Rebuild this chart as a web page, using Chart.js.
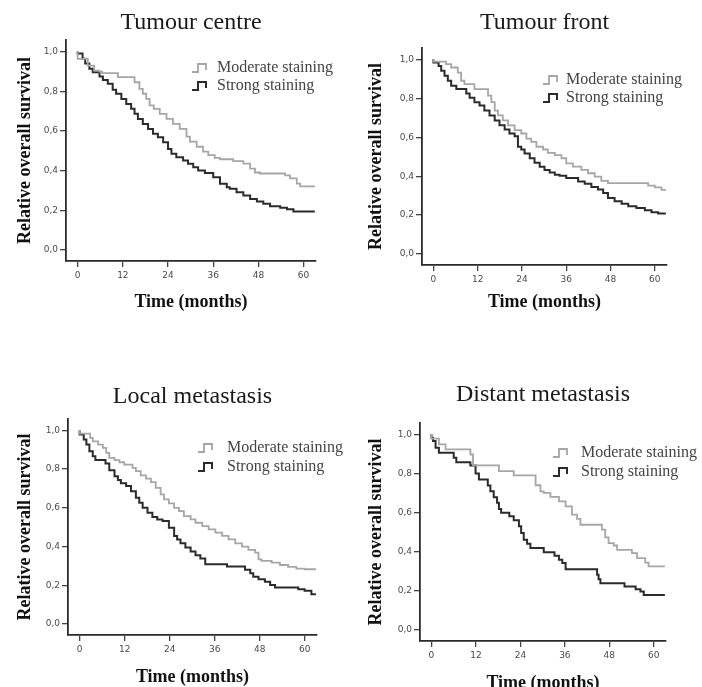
<!DOCTYPE html>
<html>
<head>
<meta charset="utf-8">
<script src="https://cdn.jsdelivr.net/npm/chart.js@4.4.0/dist/chart.umd.min.js"></script>
<style>
  html, body { margin: 0; padding: 0; background: #fff; }
  #wrap { position: relative; width: 702px; height: 687px; overflow: hidden; }
  canvas { position: absolute; }
</style>
</head>
<body>
<div id="wrap">
  <canvas id="centre" width="351" height="340" style="left:0;top:0"></canvas>
  <canvas id="front" width="351" height="340" style="left:351px;top:0"></canvas>
  <canvas id="local" width="351" height="347" style="left:0;top:340px"></canvas>
  <canvas id="distant" width="351" height="347" style="left:351px;top:340px"></canvas>
</div>
<script>
const xTicks = [0, 12, 24, 36, 48, 60];
const yTicks = [0, 0.2, 0.4, 0.6, 0.8, 1.0];
const seriesNames = ['Moderate staining', 'Strong staining'];

// Tumour centre (months, survival)
const centreModT = [0, 2.7, 4.4, 5.8, 6.5, 10.7, 15.1, 16.4, 17.3, 18.2, 19.1, 20.2, 21.8, 23.6, 25.3, 27.1, 28.9, 29.8, 31.6, 33.3, 34.7, 36.4, 37.8, 41.3, 44, 45.8, 47.1, 48.4, 55.1, 56.4, 58.2, 59.1, 60, 63];
const centreModS = [1, 0.963, 0.929, 0.904, 0.899, 0.891, 0.871, 0.845, 0.812, 0.787, 0.761, 0.728, 0.711, 0.686, 0.66, 0.635, 0.61, 0.571, 0.546, 0.52, 0.495, 0.478, 0.464, 0.457, 0.447, 0.435, 0.41, 0.39, 0.385, 0.376, 0.36, 0.334, 0.32, 0.32];
const centreStrT = [0, 1.3, 2.0, 3.1, 4.0, 5.8, 6.7, 8.0, 9.3, 10.2, 11.6, 12.9, 14.2, 15.1, 16, 17.3, 18.7, 20, 21.3, 22.7, 24, 24.9, 26.2, 28, 29.3, 30.7, 32, 33.8, 36, 37.8, 39.6, 40.4, 42.2, 44, 45.8, 47.6, 49.3, 51.1, 53.8, 55.6, 57.3, 62.7, 63];
const centreStrS = [1, 0.99, 0.963, 0.94, 0.913, 0.896, 0.874, 0.857, 0.837, 0.807, 0.787, 0.761, 0.736, 0.711, 0.686, 0.66, 0.635, 0.61, 0.585, 0.568, 0.543, 0.509, 0.484, 0.467, 0.45, 0.434, 0.417, 0.4, 0.387, 0.366, 0.333, 0.316, 0.308, 0.291, 0.274, 0.257, 0.244, 0.232, 0.22, 0.212, 0.205, 0.193, 0.193];

// Tumour front
const frontModT = [0, 3.4, 4.8, 6.6, 7.5, 8.4, 11.1, 14.8, 15.7, 16.6, 17.5, 18.8, 20.2, 22, 23.8, 25.2, 26.5, 27.9, 29.7, 31, 32.9, 34.7, 36, 37.8, 40.1, 41.9, 43.7, 45.5, 47.3, 58.2, 60, 61.8, 63];
const frontModS = [1, 0.988, 0.975, 0.958, 0.932, 0.89, 0.873, 0.847, 0.814, 0.78, 0.737, 0.712, 0.686, 0.661, 0.636, 0.619, 0.593, 0.576, 0.551, 0.537, 0.52, 0.508, 0.492, 0.466, 0.449, 0.432, 0.415, 0.398, 0.376, 0.364, 0.351, 0.342, 0.33];
const frontStrT = [0, 1.4, 2.1, 3.0, 3.9, 4.8, 6.2, 8.9, 9.8, 11.1, 12.5, 13.8, 15.2, 16.6, 17.9, 19.3, 20.6, 22, 22.9, 23.8, 24.7, 26.1, 27.4, 28.8, 30.1, 31.5, 32.9, 34.2, 36, 39.2, 41, 42.8, 44.6, 46, 47.3, 49.1, 51, 52.8, 55, 57.3, 59.1, 60.9, 63];
const frontStrS = [1, 0.983, 0.966, 0.941, 0.915, 0.89, 0.864, 0.847, 0.825, 0.802, 0.78, 0.763, 0.737, 0.712, 0.686, 0.661, 0.639, 0.619, 0.605, 0.551, 0.537, 0.517, 0.492, 0.469, 0.449, 0.432, 0.419, 0.407, 0.402, 0.39, 0.373, 0.361, 0.344, 0.331, 0.314, 0.288, 0.271, 0.259, 0.246, 0.237, 0.225, 0.215, 0.208];

// Local metastasis
const localModT = [0, 2.8, 3.5, 4.9, 6.2, 7.1, 7.9, 9.3, 10.6, 11.9, 14.1, 15, 16.3, 17.7, 19, 20.3, 21.6, 22.5, 23.8, 25.2, 26.5, 27.8, 29.6, 30.9, 32.7, 34.4, 36.2, 38, 39.7, 41.5, 43.3, 45, 46.8, 47.7, 48.5, 51.2, 53.4, 55.6, 57.8, 60, 63];
const localModS = [1, 0.983, 0.961, 0.943, 0.926, 0.909, 0.883, 0.858, 0.846, 0.835, 0.823, 0.806, 0.789, 0.767, 0.75, 0.732, 0.703, 0.669, 0.643, 0.623, 0.6, 0.583, 0.557, 0.54, 0.523, 0.506, 0.489, 0.472, 0.455, 0.437, 0.417, 0.4, 0.383, 0.369, 0.334, 0.326, 0.317, 0.305, 0.295, 0.286, 0.283];
const localStrT = [0, 1.1, 1.8, 2.6, 3.5, 4.2, 6.9, 7.9, 9.3, 10.2, 11, 12.4, 13.7, 15, 15.9, 16.8, 18.1, 19.4, 20.7, 22.1, 23.8, 25.2, 26, 26.9, 28.2, 29.6, 30.9, 32.2, 33.5, 39.3, 44.1, 45.5, 46.3, 47.7, 49.4, 50.8, 52.1, 58.3, 60, 61.8, 62.7, 63];
const localStrS = [1, 0.978, 0.952, 0.926, 0.892, 0.866, 0.846, 0.828, 0.794, 0.763, 0.743, 0.726, 0.712, 0.686, 0.652, 0.626, 0.6, 0.575, 0.552, 0.54, 0.532, 0.497, 0.455, 0.437, 0.417, 0.395, 0.374, 0.355, 0.338, 0.309, 0.297, 0.28, 0.262, 0.245, 0.232, 0.218, 0.202, 0.189, 0.18, 0.172, 0.154, 0.154];

// Distant metastasis
const distantModT = [0, 2, 3.8, 10.5, 11.2, 18.2, 22.2, 28.1, 29.4, 30.3, 32.1, 34.4, 36.2, 37.9, 39.3, 40.2, 46, 46.9, 47.8, 49.2, 50.1, 54.1, 55.5, 57.7, 58.6, 60, 63];
const distantModS = [1, 0.978, 0.949, 0.923, 0.897, 0.841, 0.812, 0.79, 0.74, 0.709, 0.701, 0.68, 0.658, 0.632, 0.59, 0.568, 0.538, 0.513, 0.474, 0.444, 0.432, 0.41, 0.393, 0.368, 0.345, 0.325, 0.325];
const distantStrT = [0, 0.4, 1.1, 2, 6, 6.7, 10.5, 11.9, 12.8, 15.2, 15.9, 16.8, 17.7, 18.2, 18.8, 21, 22.2, 23.6, 24.2, 24.9, 25.8, 26.7, 30.3, 33.2, 34.4, 35.3, 36.2, 44.7, 45.1, 45.6, 52.1, 55.1, 56.4, 57.3, 58, 63];
const distantStrS = [1, 0.983, 0.966, 0.932, 0.906, 0.88, 0.858, 0.841, 0.8, 0.769, 0.738, 0.709, 0.679, 0.65, 0.619, 0.6, 0.581, 0.561, 0.53, 0.496, 0.462, 0.441, 0.419, 0.397, 0.379, 0.359, 0.342, 0.311, 0.282, 0.26, 0.239, 0.222, 0.209, 0.197, 0.179, 0.179];

const MOD_COLOR = '#a6a6a6';
const STRONG_COLOR = '#2b2b2b';

// panel layout: chart area edges (canvas px), title / x-title centres, legend spot
const panels = [
  { id: 'centre', title: 'Tumour centre', mod: [centreModT, centreModS], str: [centreStrT, centreStrS],
    area: { l: 66, r: 316, t: 40, b: 261 }, titleY: 23, xTitleY: 302, legend: { x: 192, textX: 217, y: 68, gap: 18 } },
  { id: 'front', title: 'Tumour front', mod: [frontModT, frontModS], str: [frontStrT, frontStrS],
    area: { l: 71, r: 316, t: 48, b: 265 }, titleY: 23, xTitleY: 302, legend: { x: 192, textX: 215, y: 80, gap: 18 } },
  { id: 'local', title: 'Local metastasis', mod: [localModT, localModS], str: [localStrT, localStrS],
    area: { l: 68, r: 317, t: 79, b: 295 }, titleY: 57, xTitleY: 337, legend: { x: 198, textX: 227, y: 108, gap: 19 } },
  { id: 'distant', title: 'Distant metastasis', mod: [distantModT, distantModS], str: [distantStrT, distantStrS],
    area: { l: 69, r: 315, t: 83, b: 301 }, titleY: 55, xTitleY: 343, legend: { x: 202, textX: 230, y: 113, gap: 19 } },
];

const kmLegend = {
  id: 'kmLegend',
  afterDraw(chart, args, opts) {
    const { ctx } = chart;
    ctx.save();
    ctx.font = '16px "Liberation Serif"';
    ctx.textBaseline = 'middle';
    chart.data.datasets.forEach((ds, i) => {
      const x = opts.x;
      const y = opts.y + i * opts.gap;
      ctx.strokeStyle = ds.borderColor;
      ctx.lineWidth = ds.borderWidth;
      ctx.beginPath();
      ctx.moveTo(x, y + 4);
      ctx.lineTo(x + 6, y + 4);
      ctx.lineTo(x + 6, y - 4);
      ctx.lineTo(x + 14, y - 4);
      ctx.lineTo(x + 14, y + 2);
      ctx.stroke();
      ctx.fillStyle = '#444';
      ctx.fillText(ds.label, opts.textX, y);
    });
    ctx.restore();
  }
};

function toPoints(ts, ss) {
  return ts.map((t, i) => ({ x: t, y: ss[i] }));
}

function renderPanel(p) {
  const canvas = document.getElementById(p.id);
  const W = canvas.width, H = canvas.height;
  const titleLH = 24 * 1.2;
  const axisLH = 18 * 1.2;
  const titlePadTop = p.titleY - titleLH / 2;
  const tickFont = { family: '"DejaVu Sans"', size: 9 };

  new Chart(canvas, {
    type: 'line',
    data: {
      datasets: [
        { label: seriesNames[0], data: toPoints(p.mod[0], p.mod[1]), borderColor: MOD_COLOR, borderWidth: 1.8 },
        { label: seriesNames[1], data: toPoints(p.str[0], p.str[1]), borderColor: STRONG_COLOR, borderWidth: 2 },
      ]
    },
    options: {
      responsive: false,
      animation: false,
      devicePixelRatio: 1,
      layout: { padding: { left: 0, top: 0, right: W - p.area.r, bottom: 0 } },
      elements: { point: { radius: 0 }, line: { stepped: 'after', tension: 0, fill: false } },
      plugins: {
        legend: { display: false },
        tooltip: { enabled: false },
        title: {
          display: true, text: p.title, fullSize: false, color: '#1a1a1a',
          font: { family: '"Liberation Serif"', size: 24, weight: 'normal' },
          padding: { top: titlePadTop, bottom: p.area.t - titleLH - titlePadTop }
        },
        kmLegend: p.legend
      },
      scales: {
        x: {
          type: 'linear', min: -3.1, max: 63.3,
          afterBuildTicks: s => { s.ticks = xTicks.map(v => ({ value: v })); },
          afterFit: s => { s.height = H - p.area.b; },
          ticks: { color: '#4a4a4a', padding: 3, font: tickFont, callback: v => String(v) },
          grid: { drawOnChartArea: false, drawTicks: true, tickLength: 6, color: '#444', lineWidth: 1.3 },
          border: { display: true, color: '#2a2a2a', width: 1.8 },
          title: {
            display: true, text: 'Time (months)', color: '#111',
            font: { family: '"Liberation Serif"', size: 18, weight: 'bold' },
            padding: { top: 0, bottom: H - p.xTitleY - axisLH / 2 }
          }
        },
        y: {
          type: 'linear', min: -0.056, max: 1.058,
          afterBuildTicks: s => { s.ticks = yTicks.map(v => ({ value: v })); },
          afterFit: s => { s.width = p.area.l; },
          ticks: { color: '#4a4a4a', padding: 2, font: tickFont, callback: v => v.toFixed(1).replace('.', ',') },
          grid: { drawOnChartArea: false, drawTicks: true, tickLength: 6, color: '#444', lineWidth: 1.3 },
          border: { display: true, color: '#2a2a2a', width: 1.8 },
          title: {
            display: true, text: 'Relative overall survival', color: '#111',
            font: { family: '"Liberation Serif"', size: 18, weight: 'bold' },
            padding: { top: 25 - axisLH / 2, bottom: 0 }
          }
        }
      }
    },
    plugins: [kmLegend]
  });
}

panels.forEach(renderPanel);
</script>
</body>
</html>
